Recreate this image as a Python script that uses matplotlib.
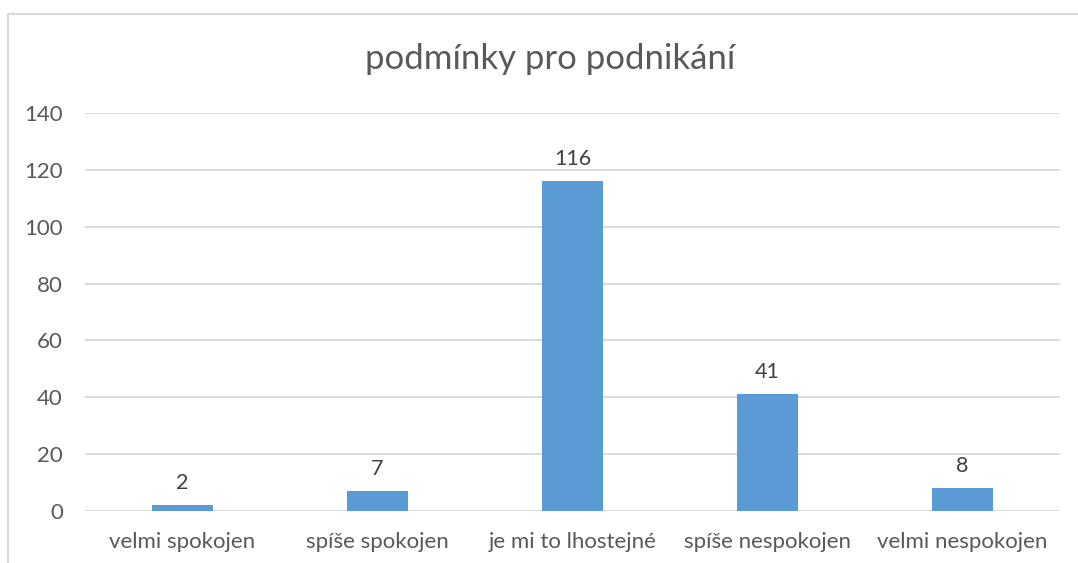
import matplotlib.pyplot as plt
from matplotlib.patches import Rectangle

# Data
kategorie = ['velmi spokojen', 'spíše spokojen', 'je mi to lhostejné', 'spíše nespokojen', 'velmi nespokojen']
pocty = [2, 7, 116, 41, 8]
yticky = [0, 20, 40, 60, 80, 100, 120, 140]

plt.rcParams['font.family'] = ['Lato', 'DejaVu Sans']
barva_textu = '#595959'
barva_mrizky = '#d9d9d9'

fig = plt.figure(figsize=(10.78, 5.63), dpi=100)
ax = fig.add_axes([0.0789, 0.0924, 0.9045, 0.7069])

x = range(len(kategorie))
sloupce = ax.bar(x, pocty, width=0.31, color='#5B9BD5', zorder=3)

for xi, v in zip(x, pocty):
    ax.annotate(str(v), (xi, v), xytext=(0, 9), textcoords='offset points',
                ha='center', va='bottom', fontsize=15.5, color='#404040')

ax.set_xlim(-0.5, len(kategorie) - 0.5)
ax.set_ylim(0, 140)
ax.set_yticks(yticky)
ax.set_xticks(list(x))
ax.set_xticklabels(kategorie)
ax.tick_params(axis='both', length=0, labelsize=16, colors=barva_textu)
ax.tick_params(axis='y', pad=16)
ax.tick_params(axis='x', pad=15)
ax.yaxis.grid(True, color=barva_mrizky, linewidth=1.3, zorder=0)
for s in ax.spines.values():
    s.set_visible(False)

fig.text(0.510, 0.895, 'podmínky pro podnikání', ha='center', va='center',
         fontsize=25, color=barva_textu)

# ramecek grafu
fig.patches.append(Rectangle((8 / 1078, -0.05), 1.2, 1 - 14 / 563 + 0.05,
                             transform=fig.transFigure, fill=False,
                             edgecolor=barva_mrizky, linewidth=1.5))

plt.savefig('out.png', dpi=100)
